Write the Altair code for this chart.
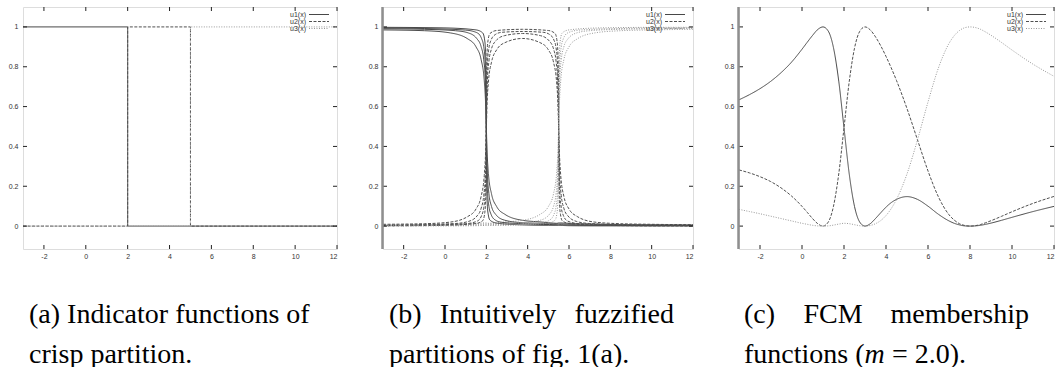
import altair as alt
import pandas as pd

SERIES = ["u1", "u2", "u3"]
LEGEND_LABELS = ["u1(x)", "u2(x)", "u3(x)"]
X_TICKS = [-2, 0, 2, 4, 6, 8, 10, 12]
Y_TICKS = [0, 0.2, 0.4, 0.6, 0.8, 1]
X_DOMAIN = [-3, 12]
Y_DOMAIN = [-0.115, 1.1]

# ---------- (a) crisp partition ----------
A_U1_X = [-3, 2, 2, 12]
A_U1_Y = [1, 1, 0, 0]
A_U2_X = [-3, 2, 2, 5, 5, 12]
A_U2_Y = [0, 0, 1, 1, 0, 0]
A_U3_X = [-3, 5, 5, 12]
A_U3_Y = [0, 0, 1, 1]

# ---------- (b) fuzzified partitions (four sharpness levels) ----------
B1_X = [-3, -1, 0.25, 1.1, 1.5, 1.75, 1.9, 1.97, 2, 2.03, 2.1, 2.25, 2.5, 2.9, 3.75,
        4.6, 5.0, 5.25, 5.4, 5.47, 5.5, 5.53, 5.6, 5.75, 6.0, 6.4, 7.25, 8.5, 10, 12]
B1_U1 = [0.985, 0.981, 0.97, 0.94, 0.90, 0.835, 0.73, 0.60, 0.50, 0.393, 0.265, 0.162, 0.098, 0.059, 0.029,
         0.021, 0.017, 0.015, 0.014, 0.015, 0.016, 0.016, 0.016, 0.015, 0.014, 0.012, 0.010, 0.007, 0.006, 0.005]
B1_U2 = [0.009, 0.012, 0.020, 0.048, 0.086, 0.15, 0.254, 0.384, 0.484, 0.597, 0.723, 0.823, 0.885, 0.921, 0.942,
         0.921, 0.885, 0.823, 0.723, 0.597, 0.484, 0.384, 0.254, 0.15, 0.086, 0.048, 0.020, 0.012, 0.009, 0.007]
B1_U3 = [0.006, 0.007, 0.010, 0.012, 0.014, 0.015, 0.016, 0.016, 0.016, 0.015, 0.014, 0.015, 0.017, 0.021, 0.029,
         0.059, 0.098, 0.162, 0.265, 0.393, 0.50, 0.60, 0.73, 0.835, 0.90, 0.94, 0.97, 0.981, 0.985, 0.988]

B2_X = [-3, -1, 0.5, 1.125, 1.55, 1.75, 1.875, 1.95, 1.985, 2, 2.015, 2.05, 2.125, 2.25, 2.45, 2.875, 3.75,
        4.625, 5.05, 5.25, 5.375, 5.45, 5.485, 5.5, 5.515, 5.55, 5.625, 5.75, 5.95, 6.375, 7, 8.5, 10.5, 12]
B2_U1 = [0.991, 0.988, 0.981, 0.97, 0.94, 0.90, 0.835, 0.73, 0.60, 0.50, 0.395, 0.267, 0.163, 0.099, 0.059, 0.030, 0.017,
         0.014, 0.012, 0.011, 0.011, 0.011, 0.011, 0.011, 0.011, 0.011, 0.011, 0.010, 0.009, 0.007, 0.006, 0.005, 0.004, 0.003]
B2_U2 = [0.005, 0.008, 0.013, 0.023, 0.051, 0.090, 0.154, 0.259, 0.389, 0.489, 0.598, 0.725, 0.827, 0.890, 0.929, 0.956, 0.967,
         0.956, 0.929, 0.890, 0.827, 0.725, 0.598, 0.489, 0.389, 0.259, 0.154, 0.090, 0.051, 0.023, 0.013, 0.008, 0.005, 0.005]
B2_U3 = [0.004, 0.005, 0.006, 0.007, 0.009, 0.010, 0.011, 0.011, 0.011, 0.011, 0.011, 0.011, 0.011, 0.011, 0.012, 0.014, 0.017,
         0.030, 0.059, 0.099, 0.163, 0.267, 0.395, 0.50, 0.60, 0.73, 0.835, 0.90, 0.94, 0.97, 0.981, 0.988, 0.991, 0.992]

B3_X = [-3, -1, 1, 1.5625, 1.775, 1.875, 1.9375, 1.975, 1.9925, 2, 2.0075, 2.025, 2.0625, 2.125, 2.225, 2.4375, 2.75, 3.75,
        4.75, 5.0625, 5.275, 5.375, 5.4375, 5.475, 5.4925, 5.5, 5.5075, 5.525, 5.5625, 5.625, 5.725, 5.9375, 6.5, 8.5, 10.5, 12]
B3_U1 = [0.995, 0.992, 0.984, 0.97, 0.94, 0.90, 0.835, 0.73, 0.60, 0.50, 0.397, 0.268, 0.164, 0.099, 0.060, 0.030, 0.019, 0.012,
         0.008, 0.008, 0.007, 0.007, 0.007, 0.007, 0.007, 0.007, 0.007, 0.007, 0.007, 0.007, 0.006, 0.005, 0.004, 0.003, 0.002, 0.002]
B3_U2 = [0.003, 0.005, 0.012, 0.025, 0.054, 0.094, 0.158, 0.263, 0.393, 0.493, 0.599, 0.727, 0.830, 0.894, 0.933, 0.962, 0.973, 0.977,
         0.973, 0.962, 0.933, 0.894, 0.830, 0.727, 0.599, 0.493, 0.393, 0.263, 0.158, 0.094, 0.054, 0.025, 0.012, 0.005, 0.003, 0.002]
B3_U3 = [0.002, 0.003, 0.004, 0.005, 0.006, 0.006, 0.007, 0.007, 0.007, 0.007, 0.007, 0.007, 0.007, 0.007, 0.007, 0.008, 0.008, 0.012,
         0.019, 0.030, 0.060, 0.099, 0.164, 0.268, 0.397, 0.50, 0.60, 0.73, 0.835, 0.90, 0.94, 0.97, 0.984, 0.992, 0.995, 0.996]

B4_X = [-3, 0, 1.5, 1.825, 1.91, 1.95, 1.975, 1.99, 1.997, 2, 2.003, 2.01, 2.025, 2.05, 2.09, 2.175, 2.5, 3.75,
        5.0, 5.325, 5.41, 5.45, 5.475, 5.49, 5.497, 5.5, 5.503, 5.51, 5.525, 5.55, 5.59, 5.675, 6.0, 7.5, 10.5, 12]
B4_U1 = [0.998, 0.995, 0.985, 0.97, 0.94, 0.90, 0.835, 0.73, 0.60, 0.50, 0.399, 0.269, 0.165, 0.100, 0.060, 0.030, 0.015, 0.006,
         0.003, 0.003, 0.003, 0.003, 0.003, 0.003, 0.003, 0.003, 0.003, 0.003, 0.003, 0.003, 0.003, 0.003, 0.002, 0.001, 0.001, 0.001]
B4_U2 = [0.001, 0.004, 0.013, 0.027, 0.057, 0.097, 0.162, 0.267, 0.397, 0.497, 0.599, 0.729, 0.833, 0.898, 0.937, 0.967, 0.982, 0.988,
         0.982, 0.967, 0.937, 0.898, 0.833, 0.729, 0.599, 0.497, 0.397, 0.267, 0.162, 0.097, 0.057, 0.027, 0.013, 0.004, 0.001, 0.001]
B4_U3 = [0.001, 0.001, 0.002, 0.003, 0.003, 0.003, 0.003, 0.003, 0.003, 0.003, 0.002, 0.002, 0.002, 0.002, 0.003, 0.003, 0.003, 0.006,
         0.015, 0.030, 0.060, 0.100, 0.165, 0.269, 0.399, 0.50, 0.60, 0.73, 0.835, 0.90, 0.94, 0.97, 0.985, 0.995, 0.998, 0.998]

# ---------- (c) FCM memberships, m = 2.0 ----------
C_X = [-3, -2.5, -2, -1.5, -1, -0.5, 0, 0.25, 0.5, 0.75, 1, 1.25, 1.5, 1.75, 2, 2.25, 2.5, 2.75, 3, 3.25, 3.5,
       3.75, 4, 4.25, 4.5, 5, 5.5, 6, 6.5, 7, 7.25, 7.5, 7.75, 8, 8.25, 8.5, 8.75, 9, 9.5, 10, 11, 12]
C_U1 = [0.634, 0.660, 0.690, 0.726, 0.770, 0.823, 0.888, 0.923, 0.957, 0.987, 1.0, 0.979, 0.895, 0.728, 0.493, 0.261,
        0.099, 0.020, 0.0, 0.012, 0.038, 0.067, 0.095, 0.118, 0.134, 0.148, 0.134, 0.100, 0.059, 0.026, 0.014, 0.006,
        0.001, 0.0, 0.001, 0.004, 0.009, 0.015, 0.029, 0.044, 0.073, 0.099]
C_U2 = [0.282, 0.267, 0.248, 0.224, 0.192, 0.151, 0.099, 0.069, 0.038, 0.012, 0.0, 0.020, 0.100, 0.262, 0.493, 0.726,
        0.893, 0.978, 1.0, 0.985, 0.950, 0.905, 0.852, 0.794, 0.731, 0.590, 0.433, 0.277, 0.146, 0.057, 0.030, 0.012,
        0.003, 0.0, 0.002, 0.008, 0.017, 0.027, 0.049, 0.072, 0.114, 0.149]
C_U3 = [0.084, 0.073, 0.062, 0.050, 0.038, 0.026, 0.014, 0.009, 0.004, 0.001, 0.0, 0.001, 0.005, 0.010, 0.014, 0.012,
        0.007, 0.002, 0.0, 0.003, 0.012, 0.028, 0.053, 0.088, 0.134, 0.262, 0.433, 0.623, 0.795, 0.917, 0.956, 0.982,
        0.996, 1.0, 0.997, 0.988, 0.974, 0.958, 0.922, 0.884, 0.813, 0.752]

# ---------- captions ----------
CAP_A = ["(a) Indicator functions of", "crisp partition."]
CAP_B = ["(b)", "Intuitively", "fuzzified", "partitions of fig. 1(a)."]
CAP_C = ["(c)", "FCM", "membership", "functions (", "m", "= 2.0)."]

COLORS = ["#484848", "#505050", "#999999"]
DASHES = [[1, 0], [3, 1.5], [1, 1.5]]
FRAME = "#222222"
LABEL_FONT = "Liberation Sans, Arial, Helvetica, sans-serif"
CAP_FONT = "Liberation Serif, Times New Roman, Times, DejaVu Serif, serif"
H = 242

XS = alt.Scale(domain=X_DOMAIN, nice=False, zero=False)
YS = alt.Scale(domain=Y_DOMAIN, nice=False, zero=False)
AX_COMMON = dict(title=None, ticks=False, tickSize=0, domain=False, grid=False,
                 labelFontSize=7, labelFont=LABEL_FONT, labelColor="#333333",
                 labelExpr="'' + datum.value")
X_AXIS = alt.Axis(values=X_TICKS, labelPadding=3, **AX_COMMON)
Y_AXIS = alt.Axis(values=Y_TICKS, labelPadding=5, **AX_COMMON)


def rows(curve, series, xs, ys):
    return [{"curve": curve, "s": series, "i": i, "x": x, "y": y}
            for i, (x, y) in enumerate(zip(xs, ys))]


def panel(df, W, interp, caption_layers, gray_edge=False):
    lines = alt.Chart(df).mark_line(strokeWidth=1, interpolate=interp, clip=True).encode(
        x=alt.X("x:Q", scale=XS, axis=X_AXIS),
        y=alt.Y("y:Q", scale=YS, axis=Y_AXIS),
        detail="curve:N",
        color=alt.Color("s:N", scale=alt.Scale(domain=SERIES, range=COLORS), legend=None),
        strokeDash=alt.StrokeDash("s:N", scale=alt.Scale(domain=SERIES, range=DASHES), legend=None),
        order="i:Q",
    )
    xt = pd.DataFrame({"x": X_TICKS})
    yt = pd.DataFrame({"y": Y_TICKS})
    tick = dict(color=FRAME, strokeWidth=1)
    layers = [lines,
              alt.Chart(xt).mark_rule(**tick).encode(x=alt.X("x:Q", scale=XS, axis=X_AXIS), y=alt.value(H), y2=alt.value(H - 4)),
              alt.Chart(xt).mark_rule(**tick).encode(x=alt.X("x:Q", scale=XS, axis=X_AXIS), y=alt.value(0), y2=alt.value(4)),
              alt.Chart(yt).mark_rule(**tick).encode(y=alt.Y("y:Q", scale=YS, axis=Y_AXIS), x=alt.value(0), x2=alt.value(4)),
              alt.Chart(yt).mark_rule(**tick).encode(y=alt.Y("y:Q", scale=YS, axis=Y_AXIS), x=alt.value(W), x2=alt.value(W - 4))]
    if gray_edge:
        layers.append(alt.Chart(pd.DataFrame({"e": [0]})).mark_rule(color="#8f8f8f", strokeWidth=2.5).encode(
            x=alt.value(-0.5), y=alt.value(0), y2=alt.value(H)))
    for k, (lab, s) in enumerate(zip(LEGEND_LABELS, SERIES)):
        yk = 7.5 + 7 * k
        layers.append(alt.Chart(pd.DataFrame({"t": [lab]})).mark_text(
            align="right", baseline="middle", fontSize=7, font=LABEL_FONT, color="#333333").encode(
            text="t:N", x=alt.value(W - 31), y=alt.value(yk)))
        layers.append(alt.Chart(pd.DataFrame({"s": [s]})).mark_rule(
            strokeWidth=1, strokeDash=DASHES[k], color=COLORS[k]).encode(
            x=alt.value(W - 28), x2=alt.value(W - 8), y=alt.value(yk)))
    for (txt, x, y, align, style) in caption_layers:
        layers.append(alt.Chart(pd.DataFrame({"t": [txt]})).mark_text(
            align=align, baseline="alphabetic", fontSize=28, font=CAP_FONT, color="#000000",
            fontStyle=style).encode(text="t:N", x=alt.value(x), y=alt.value(y)))
    return alt.layer(*layers).properties(width=W, height=H)


B1, B2 = H + 74, H + 114

df_a = pd.DataFrame(rows("a1", "u1", A_U1_X, A_U1_Y) + rows("a2", "u2", A_U2_X, A_U2_Y) + rows("a3", "u3", A_U3_X, A_U3_Y))
df_b = pd.DataFrame(
    rows("b11", "u1", B1_X, B1_U1) + rows("b12", "u2", B1_X, B1_U2) + rows("b13", "u3", B1_X, B1_U3) +
    rows("b21", "u1", B2_X, B2_U1) + rows("b22", "u2", B2_X, B2_U2) + rows("b23", "u3", B2_X, B2_U3) +
    rows("b31", "u1", B3_X, B3_U1) + rows("b32", "u2", B3_X, B3_U2) + rows("b33", "u3", B3_X, B3_U3) +
    rows("b41", "u1", B4_X, B4_U1) + rows("b42", "u2", B4_X, B4_U2) + rows("b43", "u3", B4_X, B4_U3))
df_c = pd.DataFrame(rows("c1", "u1", C_X, C_U1) + rows("c2", "u2", C_X, C_U2) + rows("c3", "u3", C_X, C_U3))

cap_a = [(CAP_A[0], 6, B1, "left", "normal"), (CAP_A[1], 6, B2, "left", "normal")]
cap_b = [(CAP_B[0], 6, B1, "left", "normal"), (CAP_B[1], 115, B1, "center", "normal"),
         (CAP_B[2], 291, B1, "right", "normal"), (CAP_B[3], 6, B2, "left", "normal")]
cap_c = [(CAP_C[0], 5, B1, "left", "normal"), (CAP_C[1], 94, B1, "center", "normal"),
         (CAP_C[2], 290, B1, "right", "normal"), (CAP_C[3], 5, B2, "left", "normal"),
         (CAP_C[4], 125.5, B2, "left", "italic"), (CAP_C[5], 153, B2, "left", "normal")]

pa = panel(df_a, 314, "linear", cap_a)
pb = panel(df_b, 310, "monotone", cap_b, gray_edge=True)
pc = panel(df_c, 315, "monotone", cap_c, gray_edge=True)

chart = alt.hconcat(pa, pb, pc, spacing=46, bounds="flush").properties(
    padding={"left": 7, "top": 5, "right": 0, "bottom": 0}
).configure_view(stroke=FRAME, strokeWidth=1).configure(background="white")

chart.save("out.html", embed_options={"renderer": "svg", "actions": False})
